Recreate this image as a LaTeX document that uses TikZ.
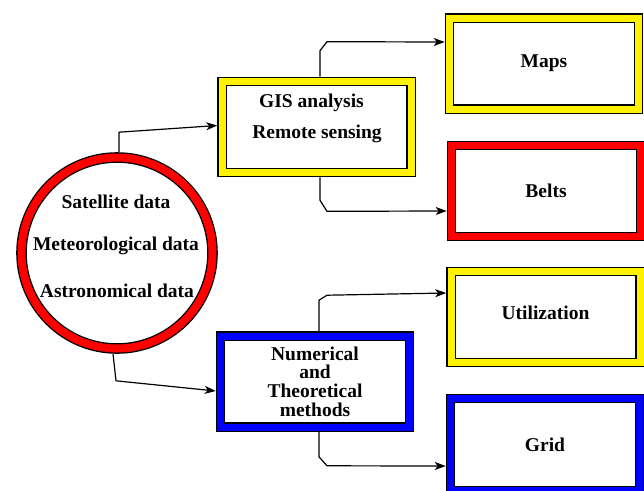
\documentclass[tikz,border=0pt]{standalone}
\usepackage{fontspec}
\setmainfont{Liberation Serif}
\usetikzlibrary{arrows.meta, positioning}
\tikzset{
  bandbox/.style={draw=black, line width=1.3pt, double=#1, double distance=7pt, minimum width=189pt, minimum height=91pt, inner sep=0pt, outer sep=4.8pt, align=center},
  ring/.style={circle, draw=black, line width=1.3pt, double=#1, double distance=8pt, minimum size=191pt, inner sep=0pt, outer sep=5.3pt},
  conn/.style={line width=1.2pt, -{Stealth[length=11pt, width=8pt, inset=3pt]}},
  txt/.style={anchor=base}
}

\begin{document}
\begin{tikzpicture}[x=1pt, y=-1pt, font=\bfseries\fontsize{19.5}{18.7}\selectfont]
  \useasboundingbox (0,0) rectangle (644,490);

  % Data sources
  \node[ring=red] (src) at (117,253) {};
  \node[txt] (sat) at (116,208) {Satellite data};
  \node[txt] (met) at (116,250) {Meteorological data};
  \node[txt] (ast) at (117,297) {Astronomical data};

  % Processing
  \node[bandbox=yellow] (gis) at (316.5,127) {};
  \node[txt] (gisa) at (311.5,107) {GIS analysis};
  \node[txt] (gisb) at (317,138) {Remote sensing};
  \node[bandbox=blue] (num) at (315,381.5) {Numerical\\and\\Theoretical\\methods};

  % Outputs
  \node[bandbox=yellow] (maps) at (544,63.5) {Maps};
  \node[bandbox=red] (belts) at (546,191) {Belts};
  \node[bandbox=yellow, text depth=8pt] (util) at (545.5,317) {Utilization};
  \node[bandbox=blue, minimum height=92pt] (grid) at (545,444.5) {Grid};

  % Connectors
  \draw[conn] ([xshift=2pt]src.north) -- ++(0,-20) -- ([yshift=1.5pt]gis.west);
  \draw[conn] ([xshift=-4pt]src.south) -- ++(3,27) -- ([yshift=-9.5pt]num.west);
  \draw[conn] ([xshift=3.5pt]gis.north) -- ++(0,-26) -- ++(7,-9) -- ([yshift=21.5pt]maps.west);
  \draw[conn] ([xshift=3.5pt]gis.south) -- ++(0,23) -- ++(7,11) -- ([yshift=-20pt]belts.west);
  \draw[conn] ([xshift=4pt]num.north) -- ++(0,-31) -- ++(8,-5) -- ([yshift=24pt]util.west);
  \draw[conn] ([xshift=4pt]num.south) -- ++(0,25) -- ++(8,9) -- ([yshift=-21.5pt]grid.west);
\end{tikzpicture}
\end{document}
